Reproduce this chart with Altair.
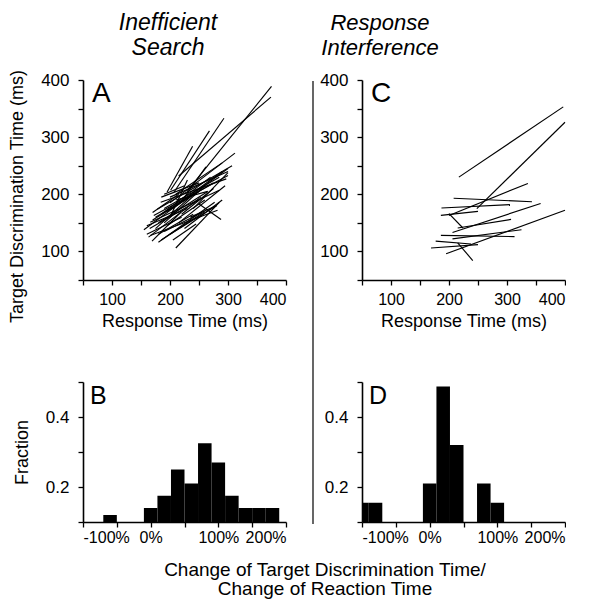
import altair as alt
import pandas as pd

FONT = "Liberation Sans"

# ---------------- data ----------------
# Panel A: Inefficient search, segments (response time -> target discrimination time)
a_x1 = [230, 215, 207, 201, 195, 200, 178, 172, 184, 166, 210, 250, 166, 155, 163, 169, 180, 190, 175, 185,
        195, 205, 160, 170, 200, 190, 215, 185, 200, 220, 210, 180, 225, 195, 170, 240, 205, 235, 190, 218,
        165, 175, 190, 180, 200, 210, 160, 185]
a_y1 = [206, 232, 204, 207, 204, 185, 174, 163, 186, 151, 106, 183, 128, 138, 125, 118, 116, 150, 140, 165,
        170, 175, 145, 155, 130, 135, 150, 195, 160, 165, 190, 130, 140, 145, 168, 175, 120, 160, 200, 185,
        140, 160, 175, 150, 195, 200, 130, 120]
a_x2 = [375, 374, 293, 268, 239, 312, 307, 300, 297, 285, 285, 288, 282, 227, 253, 219, 277, 260, 240, 270,
        290, 300, 230, 250, 280, 255, 295, 250, 230, 275, 265, 240, 290, 260, 215, 300, 245, 280, 225, 262,
        250, 275, 285, 265, 300, 290, 220, 260]
a_y2 = [389, 370, 333, 311, 284, 272, 250, 233, 227, 207, 186, 156, 172, 192, 195, 169, 186, 215, 200, 230,
        240, 245, 175, 205, 180, 168, 215, 220, 225, 210, 205, 165, 190, 190, 200, 238, 148, 180, 215, 248,
        190, 220, 230, 205, 240, 255, 160, 170]

# Panel C: Response interference segments
c_x1 = [217, 248, 200, 208, 187, 186, 200, 206, 215, 186, 206, 195, 169, 177, 215]
c_y1 = [230, 175, 163, 193, 176, 163, 166, 133, 141, 128, 122, 96, 106, 118, 115]
c_x2 = [397, 400, 336, 343, 305, 250, 224, 358, 307, 313, 325, 400, 250, 238, 241]
c_y2 = [353, 326, 219, 187, 182, 170, 141, 184, 156, 126, 138, 172, 112, 113, 84]

# Panel B histogram (change of TDT / change of RT, %)
b_lo = [-70, -10, 10, 30, 50, 70, 90, 110, 130, 150, 170]
b_hi = [-50, 10, 30, 50, 70, 90, 110, 130, 150, 170, 190]
b_frac = [0.12, 0.14, 0.175, 0.25, 0.21, 0.325, 0.27, 0.175, 0.14, 0.14, 0.14]

# Panel D histogram
d_lo = [-110, -90, -10, 10, 30, 70, 90]
d_hi = [-90, -70, 10, 30, 50, 90, 110]
d_frac = [0.155, 0.155, 0.21, 0.487, 0.32, 0.21, 0.155]

ms_ticks = [50, 100, 150, 200, 250, 300, 350, 400]
pct_ticks = [-100, -50, 0, 50, 100, 150, 200]
frac_ticks = [0.1, 0.2, 0.3, 0.4, 0.5]

title_a_lines = ["Inefficient", "Search"]
title_c_lines = ["Response", "Interference"]
letters = ["A", "B", "C", "D"]
x_title_top = "Response Time (ms)"
y_title_top = "Target Discrimination Time (ms)"
y_title_bottom = "Fraction"
bottom_title = "Change of Target Discrimination Time/\nChange of Reaction Time"

# ---------------- helpers ----------------
def txt(s):
    return pd.DataFrame({"t": [s]})

W = 203
ms_scale = alt.Scale(domain=[50, 400], nice=False, zero=False)
ms_label = "datum.value % 100 === 0 ? datum.label : ''"


def scatter_panel(x1, y1, x2, y2, letter, ytitle, extra):
    df = pd.DataFrame({"x1": x1, "y1": y1, "x2": x2, "y2": y2})
    xax = alt.Axis(values=ms_ticks, labelExpr=ms_label, title=x_title_top,
                   labelPadding=6, titlePadding=5, labelFontSize=16)
    if ytitle:
        yax = alt.Axis(values=ms_ticks, labelExpr=ms_label, title=ytitle, titleY=116)
    else:
        yax = alt.Axis(values=ms_ticks, labelExpr=ms_label, title=None)
    segs = alt.Chart(df).mark_rule(color="black", strokeWidth=1.15).encode(
        x=alt.X("x1:Q", scale=ms_scale, axis=xax),
        y=alt.Y("y1:Q", scale=ms_scale, axis=yax),
        x2="x2:Q",
        y2="y2:Q",
    )
    lt = alt.Chart(txt(letter)).mark_text(
        align="left", baseline="alphabetic", fontSize=28, font=FONT, color="black"
    ).encode(x=alt.value(9), y=alt.value(22), text="t:N")
    return alt.layer(segs, lt, *extra).properties(width=W, height=200)


pct_scale = alt.Scale(domain=[-100, 200], nice=False, zero=False)
frac_scale = alt.Scale(domain=[0.1, 0.5], nice=False, zero=False)
pct_label = "datum.value % 100 === 0 ? datum.value + '%' : ''"
frac_label = "(abs(datum.value - 0.2) < 0.01 || abs(datum.value - 0.4) < 0.01) ? format(datum.value, '.1f') : ''"


def hist_panel(lo, hi, frac, letter, ytitle, extra):
    df = pd.DataFrame({"lo": lo, "hi": hi, "f": frac})
    if ytitle:
        yax = alt.Axis(values=frac_ticks, labelExpr=frac_label, title=ytitle)
    else:
        yax = alt.Axis(values=frac_ticks, labelExpr=frac_label, title=None)
    bars = alt.Chart(df).mark_rect(color="black", clip=True).encode(
        x=alt.X("lo:Q", scale=pct_scale,
                axis=alt.Axis(values=pct_ticks, labelExpr=pct_label, title=None,
                              labelPadding=2, labelFontSize=16)),
        x2="hi:Q",
        y=alt.Y("f:Q", scale=frac_scale, axis=yax),
        y2=alt.datum(0.1),
    )
    lt = alt.Chart(txt(letter)).mark_text(
        align="left", baseline="alphabetic", fontSize=25, font=FONT, color="black"
    ).encode(x=alt.value(7), y=alt.value(22), text="t:N")
    return alt.layer(bars, lt, *extra).properties(width=W, height=140)


def title_line(s, x, y, size):
    return alt.Chart(txt(s)).mark_text(
        align="center", baseline="alphabetic", fontSize=size, font=FONT,
        fontStyle="italic", color="black"
    ).encode(x=alt.value(x), y=alt.value(y), text="t:N")


titles_a = [title_line(title_a_lines[0], 85, -50, 23), title_line(title_a_lines[1], 85, -25, 23)]
titles_c = [title_line(title_c_lines[0], 18, -50, 22), title_line(title_c_lines[1], 18, -25, 22)]

divider = alt.Chart(txt("|")).mark_rule(color="black", strokeWidth=1.2).encode(
    x=alt.value(-49), y=alt.value(1), y2=alt.value(444)
)

bottom_text = alt.Chart(txt(bottom_title)).mark_text(
    align="center", baseline="alphabetic", fontSize=19, font=FONT, color="black",
    lineBreak="\n", lineHeight=19
).encode(x=alt.value(242), y=alt.value(194), text="t:N")

pA = scatter_panel(a_x1, a_y1, a_x2, a_y2, letters[0], y_title_top, titles_a)
pC = scatter_panel(c_x1, c_y1, c_x2, c_y2, letters[2], None, titles_c + [divider])
pB = hist_panel(b_lo, b_hi, b_frac, letters[1], y_title_bottom, [bottom_text])
pD = hist_panel(d_lo, d_hi, d_frac, letters[3], None, [])

chart = alt.concat(
    pA, pC, pB, pD, columns=2, spacing={"row": 102, "column": 76}, bounds="flush"
).properties(
    padding={"left": 0, "top": 4, "right": 0, "bottom": 0}, background="white"
).configure_view(stroke=None).configure_axis(
    grid=False,
    domainColor="black",
    domainWidth=1.6,
    tickColor="black",
    tickWidth=1.3,
    tickSize=5,
    labelColor="black",
    labelFont=FONT,
    labelFontSize=16,
    titleFont=FONT,
    titleColor="black",
    titleFontWeight="normal",
    titleFontSize=18,
).configure_axisY(
    labelPadding=9, titlePadding=14, titleFontSize=18, labelFontSize=17
)

chart.save("out.html", embed_options={"renderer": "svg", "actions": False})
